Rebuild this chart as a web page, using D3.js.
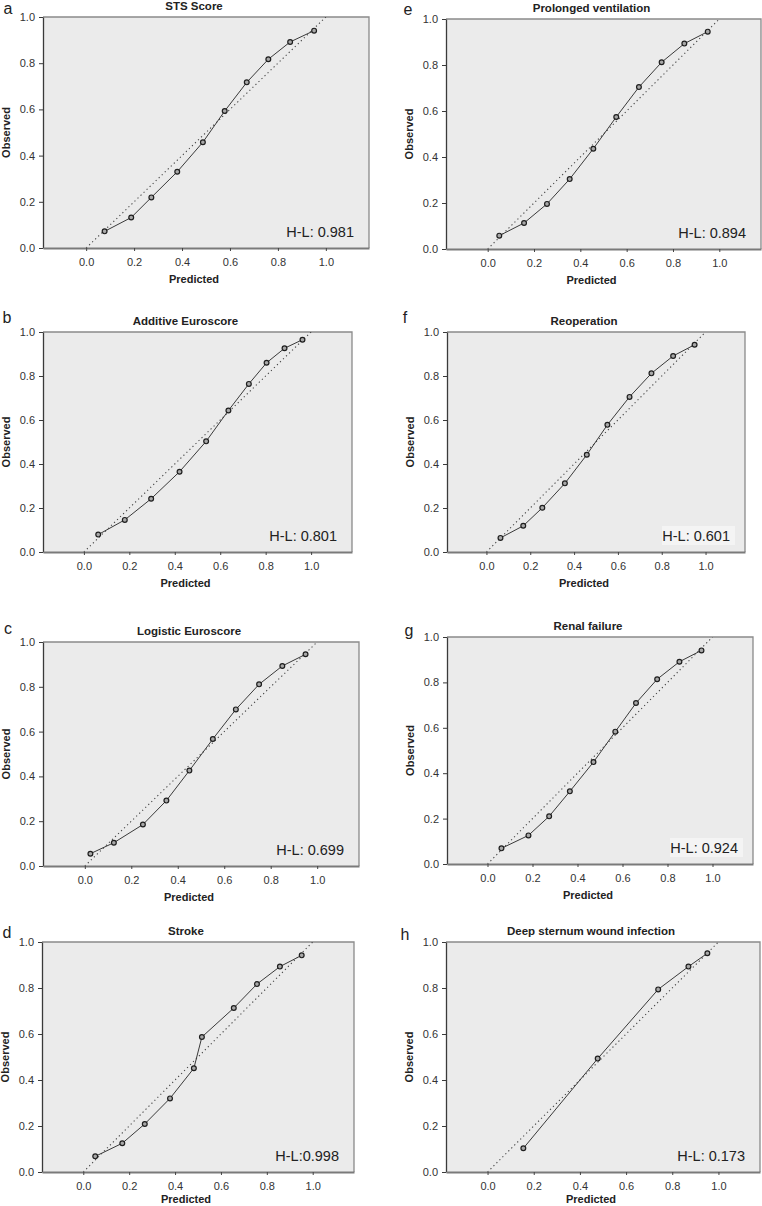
<!DOCTYPE html>
<html>
<head>
<meta charset="utf-8">
<script src="https://cdn.jsdelivr.net/npm/d3@7"></script>
<style>
  html, body { margin: 0; padding: 0; background: #fff; }
  svg { display: block; }
  text { font-family: "Liberation Sans", Arial, sans-serif; }
</style>
</head>
<body>
<script>
// ---------- DATA ----------
const panelLetters = ["a", "e", "b", "f", "c", "g", "d", "h"];
const panelTitles = ["STS Score", "Prolonged ventilation", "Additive Euroscore", "Reoperation",
                     "Logistic Euroscore", "Renal failure", "Stroke", "Deep sternum wound infection"];
const hlLabels = ["H-L: 0.981", "H-L: 0.894", "H-L: 0.801", "H-L: 0.601",
                  "H-L: 0.699", "H-L: 0.924", "H-L:0.998", "H-L: 0.173"];
const hlBoxed = [false, false, false, true, false, true, false, false];

const predA = [0.077, 0.188, 0.272, 0.380, 0.487, 0.578, 0.670, 0.760, 0.851, 0.951];
const obsA  = [0.072, 0.132, 0.219, 0.330, 0.458, 0.593, 0.717, 0.817, 0.892, 0.941];
const predE = [0.050, 0.157, 0.256, 0.354, 0.456, 0.555, 0.653, 0.751, 0.849, 0.950];
const obsE  = [0.058, 0.113, 0.196, 0.304, 0.436, 0.574, 0.704, 0.812, 0.893, 0.945];
const predB = [0.063, 0.180, 0.296, 0.421, 0.538, 0.636, 0.726, 0.804, 0.883, 0.962];
const obsB  = [0.079, 0.146, 0.242, 0.365, 0.503, 0.643, 0.764, 0.860, 0.926, 0.965];
const predF = [0.064, 0.168, 0.255, 0.358, 0.458, 0.552, 0.653, 0.753, 0.852, 0.950];
const obsF  = [0.064, 0.119, 0.201, 0.312, 0.442, 0.578, 0.705, 0.812, 0.891, 0.942];
const predC = [0.024, 0.125, 0.250, 0.351, 0.450, 0.551, 0.650, 0.750, 0.850, 0.950];
const obsC  = [0.055, 0.104, 0.185, 0.292, 0.426, 0.567, 0.699, 0.811, 0.893, 0.945];
const predG = [0.062, 0.182, 0.274, 0.366, 0.471, 0.568, 0.660, 0.754, 0.853, 0.951];
const obsG  = [0.069, 0.126, 0.210, 0.320, 0.449, 0.583, 0.709, 0.814, 0.891, 0.941];
const predD = [0.052, 0.170, 0.268, 0.378, 0.482, 0.517, 0.656, 0.757, 0.857, 0.952];
const obsD  = [0.068, 0.125, 0.209, 0.320, 0.451, 0.587, 0.713, 0.817, 0.893, 0.942];
const predH = [0.155, 0.477, 0.739, 0.870, 0.952];
const obsH  = [0.103, 0.493, 0.794, 0.893, 0.951];

const predicted = [predA, predE, predB, predF, predC, predG, predD, predH];
const observed  = [obsA, obsE, obsB, obsF, obsC, obsG, obsD, obsH];

const tickValues = [0, 0.2, 0.4, 0.6, 0.8, 1.0];
const xDomain = [-0.18, 1.18];
const yDomain = [0, 1];
const diagonal = [[0, 0], [1, 1]];

// ---------- LAYOUT (frame boxes in pixels) ----------
const frames = [
  {l: 43,  r: 369, t: 17,  b: 248, lx: 8,   ly: 14},
  {l: 446, r: 761, t: 19,  b: 249, lx: 408, ly: 15},
  {l: 43,  r: 352, t: 332, b: 552, lx: 7,   ly: 323},
  {l: 447, r: 745, t: 332, b: 552, lx: 405, ly: 323},
  {l: 43,  r: 359, t: 642, b: 866, lx: 8,   ly: 634},
  {l: 447, r: 753, t: 637, b: 864, lx: 409, ly: 636},
  {l: 42,  r: 354, t: 942, b: 1172, lx: 7,  ly: 938},
  {l: 446, r: 760, t: 942, b: 1172, lx: 405, ly: 940}
];

const W = 762, H = 1206;
const svg = d3.select("body").append("svg").attr("width", W).attr("height", H);

frames.forEach((f, i) => {
  const x = d3.scaleLinear().domain(xDomain).range([f.l, f.r]);
  const y = d3.scaleLinear().domain(yDomain).range([f.b, f.t]);
  const g = svg.append("g");

  // background
  g.append("rect").attr("x", f.l).attr("y", f.t).attr("width", f.r - f.l).attr("height", f.b - f.t)
    .attr("fill", "#ebebeb");

  // top/right border
  g.append("path")
    .attr("d", `M${f.l},${f.t}H${f.r}V${f.b}`)
    .attr("fill", "none").attr("stroke", "#8a8a8a").attr("stroke-width", 1.3);

  const clipId = "clip" + i;
  svg.append("clipPath").attr("id", clipId).append("rect")
    .attr("x", f.l).attr("y", f.t).attr("width", f.r - f.l).attr("height", f.b - f.t);

  // H-L label
  const hlX = f.r - 15, hlY = f.b - 11;
  if (hlBoxed[i]) {
    g.append("rect").attr("x", hlX - 68).attr("y", hlY - 15).attr("width", 73).attr("height", 19)
      .attr("fill", "#f4f4f4");
  }
  g.append("text").attr("x", hlX).attr("y", hlY).attr("text-anchor", "end")
    .attr("font-size", 14.5).attr("fill", "#222").text(hlLabels[i]);

  // diagonal reference
  g.append("path").attr("clip-path", `url(#${clipId})`)
    .attr("d", d3.line().x(d => x(d[0])).y(d => y(d[1]))(diagonal))
    .attr("fill", "none").attr("stroke", "#444").attr("stroke-width", 1.1)
    .attr("stroke-dasharray", "1.2,3");

  // observed line
  const pts = predicted[i].map((p, k) => [p, observed[i][k]]);
  g.append("path")
    .attr("d", d3.line().x(d => x(d[0])).y(d => y(d[1]))(pts))
    .attr("fill", "none").attr("stroke", "#3a3a3a").attr("stroke-width", 1);

  g.selectAll("circle.pt").data(pts).enter().append("circle")
    .attr("cx", d => x(d[0])).attr("cy", d => y(d[1])).attr("r", 2.4)
    .attr("fill", "#a8a8a8").attr("stroke", "#1e1e1e").attr("stroke-width", 1.2);

  // axes
  const yAxis = d3.axisLeft(y).tickValues(tickValues).tickFormat(d3.format(".1f"))
    .tickSize(4).tickSizeOuter(0).tickPadding(4);
  const ya = g.append("g").attr("transform", `translate(${f.l},0)`).call(yAxis);
  ya.select(".domain").attr("stroke", "#3a3a3a").attr("stroke-width", 1.3);
  ya.selectAll(".tick line").attr("stroke", "#3a3a3a");
  ya.selectAll("text").attr("font-size", 11).attr("fill", "#333")
    .attr("font-family", "'Liberation Sans', Arial, sans-serif");

  const xAxis = d3.axisBottom(x).tickValues(tickValues).tickFormat(d3.format(".1f"))
    .tickSize(3).tickSizeOuter(0).tickPadding(7);
  const xa = g.append("g").attr("transform", `translate(0,${f.b})`).call(xAxis);
  xa.select(".domain").attr("stroke", "#7a7a7a").attr("stroke-width", 1.8);
  xa.selectAll(".tick line").attr("stroke", "#444");
  xa.selectAll("text").attr("font-size", 11).attr("fill", "#333")
    .attr("font-family", "'Liberation Sans', Arial, sans-serif");

  // axis titles
  g.append("text").attr("x", (f.l + f.r) / 2 - 12).attr("y", Math.min(f.b + 35, H - 3))
    .attr("text-anchor", "middle").attr("font-size", 11).attr("font-weight", "bold")
    .attr("fill", "#222").text("Predicted");
  g.append("text")
    .attr("transform", `translate(${f.l - 33},${(f.t + f.b) / 2}) rotate(-90)`)
    .attr("text-anchor", "middle").attr("font-size", 11).attr("font-weight", "bold")
    .attr("fill", "#222").text("Observed");

  // panel title
  g.append("text").attr("x", (f.l + f.r) / 2 - 12).attr("y", f.t - 7)
    .attr("text-anchor", "middle").attr("font-size", 11.5).attr("font-weight", "bold")
    .attr("fill", "#222").text(panelTitles[i]);

  // panel letter
  g.append("text").attr("x", f.lx).attr("y", f.ly)
    .attr("text-anchor", "middle").attr("font-size", 16).attr("fill", "#222").text(panelLetters[i]);
});
</script>
</body>
</html>
